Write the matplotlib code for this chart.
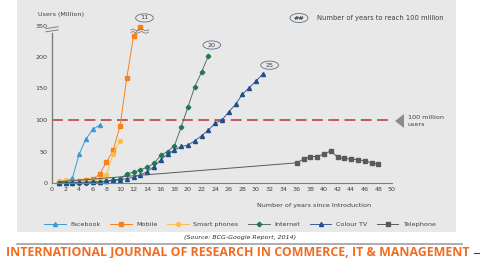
import matplotlib.pyplot as plt
from matplotlib.patches import Rectangle, Ellipse, Polygon
import numpy as np

# data (Users, million) ; top value 350 drawn at break position 250
fb_years = [1, 2, 3, 4, 5, 6, 7]
fb_vals = [0, 1, 8, 46, 70, 85, 92]

mob_years = [1, 2, 3, 4, 5, 6, 7, 8, 9, 10, 11, 12, 13]
mob_vals = [2, 3, 2, 3, 4, 6, 14, 33, 52, 90, 167, 234, 248]

sp_years = [1, 2, 3, 4, 5, 6, 7, 8, 9, 10]
sp_vals = [3, 5, 2, 2, 3, 4, 6, 13, 46, 67]

net_years = list(range(1, 24))
net_vals = [0, 0, 0, 0, 0, 1, 1, 3, 5, 6, 15, 17, 21, 25, 31, 44, 50, 59, 89, 121, 153, 176, 202]

tv_years = list(range(1, 32))
tv_vals = [0, 0, 0, 1, 1, 2, 2, 3, 4, 5, 7, 9, 13, 18, 26, 37, 46, 52, 58, 60, 67, 75, 84, 95,
           100, 113, 125, 141, 151, 162, 173]

tel_years = [1, 36, 37, 38, 39, 40, 41, 42, 43, 44, 45, 46, 47, 48]
tel_vals = [2, 32, 38, 42, 42, 46, 51, 41, 39, 38, 37, 35, 32, 30]

yticks = [0, 50, 100, 150, 200, 250]
ytick_labels = ['0', '50', '100', '150', '200', '350']
xticks = list(range(0, 51, 2))

W, H = 481, 258
fig = plt.figure(figsize=(W / 100, H / 100), dpi=100)
fig.patch.set_facecolor('white')
fig.patches.append(Rectangle((17 / W, 1 - 232 / H), (456 - 17) / W, 232 / H,
                             transform=fig.transFigure, facecolor='#e8e8e8',
                             edgecolor='none', zorder=0))

ax = fig.add_axes([52 / W, 1 - 183 / H, 340 / W, 160.65 / H])
ax.set_zorder(3)
ax.set_facecolor('none')
ax.set_xlim(0, 50)
ax.set_ylim(0, 255)

fs = 4.6
lw = 0.7
ms = 2.9
ax.plot(fb_years, fb_vals, color='#3b9ad9', lw=lw, marker='^', ms=ms, label='Facebook', clip_on=False)
ax.plot(mob_years, mob_vals, color='#f5821f', lw=lw, marker='s', ms=ms, label='Mobile', clip_on=False)
ax.plot(sp_years, sp_vals, color='#f9c04c', lw=lw, marker='o', ms=ms, label='Smart phones', clip_on=False)
ax.plot(net_years, net_vals, color='#5d6d63', lw=lw, marker='P', ms=ms, mfc='#1e7b4e', mec='#1e7b4e',
        label='Internet', clip_on=False)
ax.plot(tv_years, tv_vals, color='#3f5f9a', lw=lw, marker='^', ms=ms, mfc='#1f4e8c', mec='#1f4e8c',
        label='Colour TV', clip_on=False)
ax.plot(tel_years, tel_vals, color='#5a5a5a', lw=lw, marker='s', ms=ms, markevery=list(range(1, len(tel_years))),
        label='Telephone', clip_on=False)

# 100 million line
ax.axhline(100, color='#c0504d', lw=1.3, dashes=(6, 3), zorder=1)

for s in ['top', 'right']:
    ax.spines[s].set_visible(False)
ax.spines['left'].set_color('#7f7f7f')
ax.spines['bottom'].set_color('#7f7f7f')
ax.spines['left'].set_bounds(0, 238)
ax.spines['left'].set_linewidth(1.0)
ax.spines['bottom'].set_linewidth(0.8)
ax.tick_params(length=0, labelsize=fs, colors='#404040', pad=3)
ax.set_yticks(yticks)
ax.set_yticklabels(ytick_labels)
ax.set_xticks(xticks)

# axis break marks
for dy in (0, 5):
    ax.plot([-0.9, 0.9], [240 + dy, 243 + dy], color='#7f7f7f', lw=0.7, clip_on=False)
# break on mobile line
xs = np.linspace(11.6, 14.2, 30)
for off in (239, 243):
    ax.plot(xs, off + 1.2 * np.sin((xs - 11.6) * 5), color='#7f7f7f', lw=0.6, clip_on=False)

# year bubbles
for x, y, t in [(13.6, 262, '11'), (23.5, 219, '20'), (32.0, 187, '25')]:
    ax.add_patch(Ellipse((x, y), 2.6, 13, facecolor='none', edgecolor='#5a6f8a', lw=0.6, clip_on=False))
    ax.text(x, y, t, fontsize=fs, ha='center', va='center', color='#404040')

ax.text(-2.0, 268, 'Users (Million)', fontsize=fs, color='#404040', ha='left', va='center')
ax.text(47, -35, 'Number of years since Introduction', fontsize=fs, color='#404040', ha='right', va='center')

# top legend key
fig.patches.append(Ellipse((299 / W, 1 - 18 / H), 18 / W, 9 / H, transform=fig.transFigure,
                           facecolor='none', edgecolor='#5a6f8a', lw=0.6))
fig.text(299 / W, 1 - 18 / H, '##', fontsize=fs, ha='center', va='center', color='#404040', weight='bold')
fig.text(317 / W, 1 - 18 / H, 'Number of years to reach 100 million', fontsize=fs + 0.3,
         ha='left', va='center', color='#404040')

# 100 million users marker
fig.patches.append(Polygon([(395 / W, 1 - 121 / H), (404 / W, 1 - 114 / H), (404 / W, 1 - 128 / H)],
                           closed=True, transform=fig.transFigure, facecolor='#8c8c8c', edgecolor='none'))
fig.text(408 / W, 1 - 118 / H, '100 million', fontsize=fs, ha='left', va='center', color='#404040')
fig.text(408 / W, 1 - 125 / H, 'users', fontsize=fs, ha='left', va='center', color='#404040')

fig.legend(*ax.get_legend_handles_labels(), loc='center', bbox_to_anchor=(240 / W, 1 - 224 / H),
           ncol=6, frameon=False, fontsize=fs, handlelength=3.4, columnspacing=1.5, handletextpad=0.7,
           labelcolor='#404040')

fig.text(240 / W, 1 - 238 / H, '(Source: BCG-Google Report, 2014)', fontsize=4.5, style='italic',
         ha='center', va='center', color='#303030')
fig.add_artist(plt.Line2D([17 / W, 462 / W], [1 - 243.5 / H, 1 - 243.5 / H], transform=fig.transFigure,
                          color='#a0a0a0', lw=1.2))
fig.text(238 / W, 1 - 252 / H, 'INTERNATIONAL JOURNAL OF RESEARCH IN COMMERCE, IT & MANAGEMENT',
         fontsize=8.9, weight='bold', color='#f26b21', ha='center', va='center', family='Open Sans')
fig.add_artist(plt.Line2D([474 / W, 480 / W], [1 - 253 / H, 1 - 253 / H], transform=fig.transFigure,
                          color='#404040', lw=0.8))

fig.savefig('out.png', dpi=100)
